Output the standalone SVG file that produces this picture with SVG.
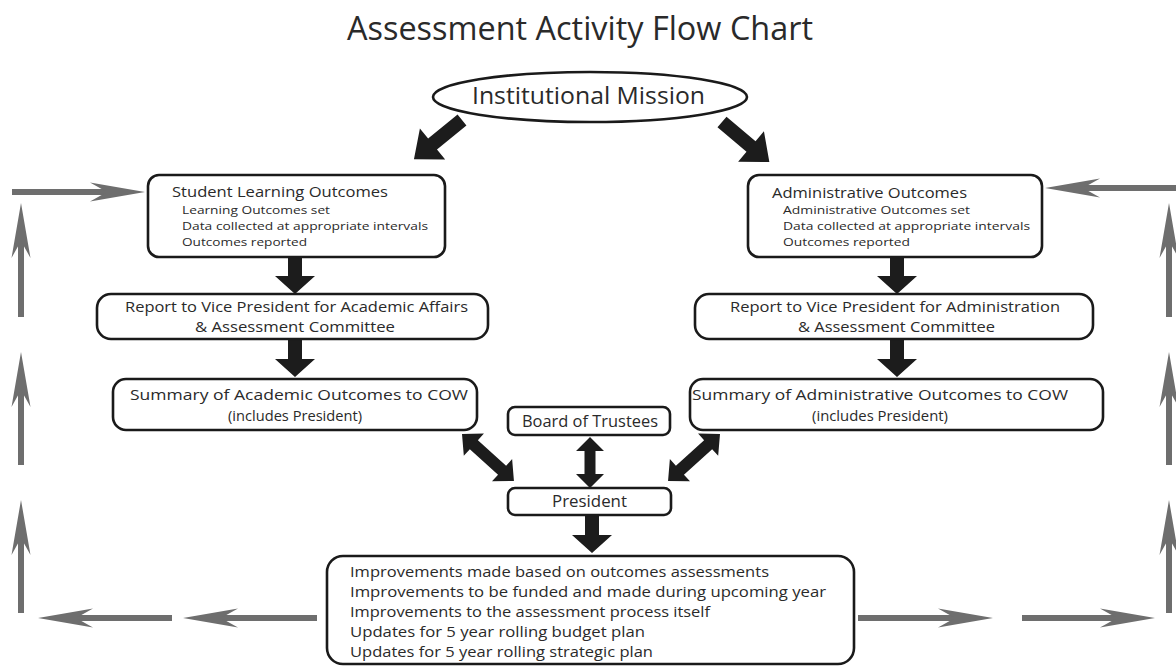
<svg xmlns="http://www.w3.org/2000/svg" width="1176" height="668" viewBox="0 0 1176 668">
<style>
.box{fill:#fff;stroke:#1a1a1a;stroke-width:2.6}
.t{font-family:"Open Sans","Liberation Sans",sans-serif;fill:#2a2a2a}
.g{stroke:#6e6e6e;stroke-width:6;fill:none;marker-end:url(#ga)}
.ba{fill:#1c1c1c}
</style>
<defs>
<marker id="ga" markerUnits="userSpaceOnUse" viewBox="-20 -11 62 22" markerWidth="62" markerHeight="22" refX="0" refY="0" orient="auto">
<path d="M38,0 L-17,-9.5 L0,0 L-17,9.5 Z" fill="#6e6e6e"/>
</marker>
<path id="down" d="M0,-7 H20 V-20 L38,0 L20,20 V7 H0 Z"/>
<path id="diag" d="M0,-7 H38 V-20 L62,0 L38,20 V7 H0 Z"/>
<path id="dbl" d="M0,0 L16,-15 V-6 H54 V-15 L70,0 L54,15 V6 H16 V15 Z"/>
<path id="dblv" d="M0,0 L14,-14 V-5.5 H37 V-14 L51,0 L37,14 V5.5 H14 V14 Z"/>
</defs>
<rect width="1176" height="668" fill="#fff"/>
<text class="t" x="580" y="40" font-size="32" text-anchor="middle" textLength="466" lengthAdjust="spacingAndGlyphs" fill="#222">Assessment Activity Flow Chart</text>

<g id="connectors">
<g class="ba">
<use href="#diag" transform="translate(462,120) rotate(140.8)"/>
<use href="#diag" transform="translate(722,122) rotate(40.2)"/>
<use href="#down" transform="translate(295,256) rotate(90)"/>
<use href="#down" transform="translate(295,339) rotate(90)"/>
<use href="#down" transform="translate(897,256) rotate(90)"/>
<use href="#down" transform="translate(897,339) rotate(90)"/>
<use href="#down" transform="translate(592,515) rotate(90)"/>
<use href="#dblv" transform="translate(590,437) rotate(90)"/>
<use href="#dbl" transform="translate(462,434) rotate(42.1)"/>
<use href="#dbl" transform="translate(720,434) rotate(137.9)"/>
</g>
<line class="g" x1="12" y1="192" x2="107" y2="192"/>
<line class="g" x1="1176" y1="188" x2="1083" y2="188"/>
<line class="g" x1="21" y1="317" x2="21" y2="241"/>
<line class="g" x1="21" y1="465" x2="21" y2="390"/>
<line class="g" x1="21" y1="613" x2="21" y2="538"/>
<line class="g" x1="1169" y1="317" x2="1169" y2="241"/>
<line class="g" x1="1169" y1="465" x2="1169" y2="390"/>
<line class="g" x1="1169" y1="613" x2="1169" y2="538"/>
<line class="g" x1="172" y1="618" x2="76" y2="618"/>
<line class="g" x1="317" y1="618" x2="221" y2="618"/>
<line class="g" x1="858" y1="618" x2="955" y2="618"/>
<line class="g" x1="1022" y1="618" x2="1117" y2="618"/>
</g>

<g id="mission">
<ellipse class="box" cx="590" cy="97" rx="157" ry="25"/>
<text class="t" x="472" y="104" font-size="23" textLength="233" lengthAdjust="spacingAndGlyphs">Institutional Mission</text>
</g>

<g id="slo">
<rect class="box" x="148" y="175" width="297" height="82" rx="11"/>
<text class="t" x="172" y="197" font-size="15" textLength="216" lengthAdjust="spacingAndGlyphs">Student Learning Outcomes</text>
<text class="t" x="182" y="214" font-size="11.5" textLength="148" lengthAdjust="spacingAndGlyphs">Learning Outcomes set</text>
<text class="t" x="182" y="230" font-size="11.5" textLength="246" lengthAdjust="spacingAndGlyphs">Data collected at appropriate intervals</text>
<text class="t" x="182" y="246" font-size="11.5" textLength="125" lengthAdjust="spacingAndGlyphs">Outcomes reported</text>
</g>

<g id="admin">
<rect class="box" x="748" y="175" width="294" height="82" rx="11"/>
<text class="t" x="772" y="198" font-size="15" textLength="195" lengthAdjust="spacingAndGlyphs">Administrative Outcomes</text>
<text class="t" x="783" y="214" font-size="11.5" textLength="187" lengthAdjust="spacingAndGlyphs">Administrative Outcomes set</text>
<text class="t" x="783" y="230" font-size="11.5" textLength="247" lengthAdjust="spacingAndGlyphs">Data collected at appropriate intervals</text>
<text class="t" x="783" y="246" font-size="11.5" textLength="127" lengthAdjust="spacingAndGlyphs">Outcomes reported</text>
</g>

<g id="report-academic">
<rect class="box" x="97" y="294" width="391" height="45" rx="14"/>
<text class="t" x="125" y="312" font-size="14.5" textLength="343" lengthAdjust="spacingAndGlyphs">Report to Vice President for Academic Affairs</text>
<text class="t" x="195" y="332" font-size="14.5" textLength="200" lengthAdjust="spacingAndGlyphs">&amp; Assessment Committee</text>
</g>

<g id="report-admin">
<rect class="box" x="695" y="294" width="398" height="45" rx="14"/>
<text class="t" x="730" y="312" font-size="14.5" textLength="330" lengthAdjust="spacingAndGlyphs">Report to Vice President for Administration</text>
<text class="t" x="798" y="332" font-size="14.5" textLength="197" lengthAdjust="spacingAndGlyphs">&amp; Assessment Committee</text>
</g>

<g id="summary-academic">
<rect class="box" x="113" y="379" width="364" height="51" rx="13"/>
<text class="t" x="130" y="400" font-size="15" textLength="338" lengthAdjust="spacingAndGlyphs">Summary of Academic Outcomes to COW</text>
<text class="t" x="295" y="421" font-size="15" text-anchor="middle" textLength="134" lengthAdjust="spacingAndGlyphs">(includes President)</text>
</g>

<g id="summary-admin">
<rect class="box" x="690" y="379" width="413" height="51" rx="13"/>
<text class="t" x="692" y="400" font-size="15" textLength="376" lengthAdjust="spacingAndGlyphs">Summary of Administrative Outcomes to COW</text>
<text class="t" x="880" y="421" font-size="15" text-anchor="middle" textLength="136" lengthAdjust="spacingAndGlyphs">(includes President)</text>
</g>

<g id="board">
<rect class="box" x="508" y="407" width="162" height="28" rx="7"/>
<text class="t" x="522" y="427" font-size="15.5" textLength="136" lengthAdjust="spacingAndGlyphs">Board of Trustees</text>
</g>

<g id="president">
<rect class="box" x="508" y="488" width="163" height="27" rx="7"/>
<text class="t" x="552" y="507" font-size="15.5" textLength="75" lengthAdjust="spacingAndGlyphs">President</text>
</g>

<g id="improvements">
<rect class="box" x="327" y="556" width="527" height="108" rx="16"/>
<text class="t" x="350" y="577" font-size="14.5" textLength="419" lengthAdjust="spacingAndGlyphs">Improvements made based on outcomes assessments</text>
<text class="t" x="350" y="597" font-size="14.5" textLength="476" lengthAdjust="spacingAndGlyphs">Improvements to be funded and made during upcoming year</text>
<text class="t" x="350" y="617" font-size="14.5" textLength="360" lengthAdjust="spacingAndGlyphs">Improvements to the assessment process itself</text>
<text class="t" x="350" y="637" font-size="14.5" textLength="295" lengthAdjust="spacingAndGlyphs">Updates for 5 year rolling budget plan</text>
<text class="t" x="350" y="657" font-size="14.5" textLength="303" lengthAdjust="spacingAndGlyphs">Updates for 5 year rolling strategic plan</text>
</g>
</svg>
